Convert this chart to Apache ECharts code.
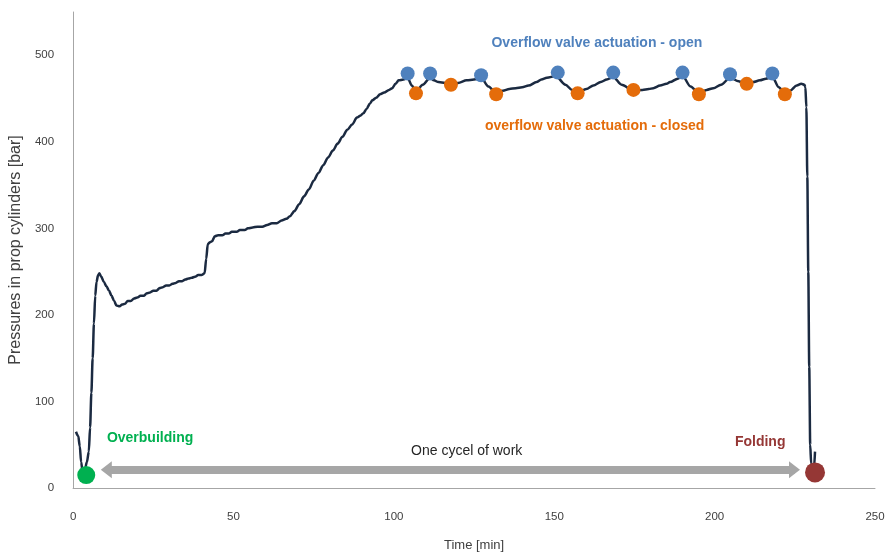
<!DOCTYPE html>
<html>
<head>
<meta charset="utf-8">
<script src="https://cdn.jsdelivr.net/npm/echarts@6.0.0/dist/echarts.min.js"></script>
<style>
html,body{margin:0;padding:0;background:#ffffff;}
#chart{width:888px;height:557px;}
</style>
</head>
<body>
<div id="chart"></div>
<script>
// ---- data ----
const pressureCurve = [
  [0.9,65],[1.6,60],[2.1,48],[2.5,30],[3.0,18],[3.6,20],[4.3,30],[4.9,42],[5.3,70],[5.7,110],[6.1,150],[6.5,190],[6.9,222],[7.3,238],[7.8,246],[8.2,248],
  [8.8,244],[9.6,238],[10.4,233],[11.2,228],[12.0,222],[12.8,216],[13.5,211],[14.5,210],[15.3,212],[16.2,213],[17.0,216],[18.0,216],[19.0,219],[20.0,220],
  [21.0,222],[22.0,222],[23.0,225],[24.0,226],[25.0,228],[26.0,228],[27.0,231],[28.0,232],[29.0,234],[30.0,234],[31.0,236],[32.0,237],[33.0,239],[34.0,239],
  [35.0,241],[36.0,242],[37.0,243],[38.0,244],[39.0,246],[40.0,246],[41.0,248],[41.5,265],[42.0,282],[42.7,284],[43.3,285],[44.2,291],[45.2,292],[46.5,292],
  [47.5,294],[48.5,294],[49.5,296],[51.0,296],[52.0,298],[53.5,298],[54.5,300],[56.0,301],[57.5,302],[59.0,302],[60.5,304],[62.0,306],[63.5,306],[65.0,309],
  [66.5,311],[67.6,314],[69.0,320],[70.5,328],[72.0,337],[73.5,345],[75.0,355],[76.5,364],[78.0,373],[79.5,382],[81.0,390],[82.5,398],[84.0,406],[85.5,414],
  [87.0,420],[88.5,428],[89.5,430],[90.5,433],[91.5,438],[92.5,444],[93.3,448],[94.5,451],[95.7,455],[97.0,457],[98.5,460],[99.5,462],[100.5,467],[101.5,471],
  [103.0,472],[104.3,474],[105.6,465],[106.9,458],[109.0,466],[111.3,474],[112.5,471],[113.9,469],[116.0,468],[117.8,466],[120.0,468],[122.7,471],[125.0,472],
  [127.2,474],[129.5,464],[131.9,456],[134.0,459],[136.0,461],[138.0,462],[140.0,463],[142.0,465],[144.5,469],[146.0,472],[147.7,474],[150.5,476],[153.5,466],
  [155.5,460],[157.3,457],[160.0,461],[162.2,465],[164.5,469],[166.4,472],[168.4,475],[171.0,466],[174.7,459],[177.5,460],[179.5,461],[180.9,462],[183.0,465],
  [185.0,467],[186.1,469],[188.5,473],[190.0,476],[192.5,464],[195.1,456],[197.5,460],[199.6,462],[202.0,466],[204.8,474],[207.5,470],[210.0,466],[212.0,469],
  [214.1,471],[216.0,473],[218.0,475],[220.0,463],[221.9,456],[223.5,459],[225.6,465],[227.0,467],[228.0,466],[228.3,463],[228.6,440],[228.9,360],[229.2,250],
  [229.5,140],[229.8,50],[230.1,28],[230.6,20],[231.0,24],[231.3,42]
];
const valveOpenPoints   = [[104.3,479],[111.3,479],[127.2,477],[151.1,480],[168.4,480],[190.0,480],[204.8,478],[218.0,479]];
const valveClosedPoints = [[106.9,456],[117.8,466],[131.9,455],[157.3,456],[174.7,460],[195.1,455],[210.0,467],[221.9,455]];
const overbuildingPoint = [[4.1,15]];
const foldingPoint      = [[231.3,18]];
const cycleArrowTime    = [10.35, 224.9];
const cycleArrowLevel   = 21;
const annotationText     = ['Overflow valve actuation - open','overflow valve actuation - closed','Overbuilding','Folding','One cycel of work'];
const annotationTime     = [163.3, 162.6, 24.0, 214.2, 122.7];
const annotationPressure = [514, 418, 58, 53, 43];
const xTicks = [0, 50, 100, 150, 200, 250];
const yTicks = [0, 100, 200, 300, 400, 500];

// ---- styling ----
const FONT = 'Liberation Sans';
const annotationStyles = [
  {color:'#4F81BD', fontWeight:'bold', fontSize:14},
  {color:'#E46C0A', fontWeight:'bold', fontSize:14},
  {color:'#00B050', fontWeight:'bold', fontSize:14},
  {color:'#953735', fontWeight:'bold', fontSize:14},
  {color:'#262626', fontWeight:'normal', fontSize:14}
];
const annotations = annotationText.map((t, i) => ({
  value: [annotationTime[i], annotationPressure[i]],
  label: Object.assign({show:true, position:'inside', formatter:t, fontFamily:FONT, opacity:1}, annotationStyles[i])
}));

const chart = echarts.init(document.getElementById('chart'), null, {renderer:'canvas'});
chart.setOption({
  animation: false,
  backgroundColor: '#ffffff',
  grid: {left:73, right:13, top:12, bottom:67, containLabel:false},
  xAxis: {
    type:'value', min:xTicks[0], max:xTicks[xTicks.length-1], interval:xTicks[1]-xTicks[0],
    name:'Time [min]', nameLocation:'middle', nameGap:51,
    nameTextStyle:{fontFamily:FONT, fontSize:13, color:'#404040'},
    axisLine:{show:true, lineStyle:{color:'#A6A6A6', width:1}},
    axisTick:{show:false},
    axisLabel:{fontFamily:FONT, fontSize:11.5, color:'#404040', margin:23},
    splitLine:{show:false}
  },
  yAxis: {
    type:'value', min:yTicks[0], max:550, interval:yTicks[1]-yTicks[0],
    name:'Pressures in prop cylinders [bar]', nameLocation:'middle', nameGap:46, nameRotate:90,
    nameTextStyle:{fontFamily:FONT, fontSize:16, color:'#404040'},
    axisLine:{show:true, lineStyle:{color:'#A6A6A6', width:1}},
    axisTick:{show:false},
    axisLabel:{fontFamily:FONT, fontSize:11.5, color:'#404040', margin:19, showMaxLabel:false},
    splitLine:{show:false}
  },
  series: [
    {
      type:'line', data:pressureCurve, showSymbol:false, symbol:'none',
      smooth:0.3, smoothMonotone:'x',
      lineStyle:{color:'#1B2A41', width:2.5}, z:2
    },
    {
      type:'scatter', data:annotations, symbolSize:0, z:1, silent:true,
      itemStyle:{opacity:1},
      markLine:{
        silent:true, symbol:['triangle','triangle'], symbolSize:[17,11],
        lineStyle:{color:'#A6A6A6', width:8, type:'solid', opacity:1},
        itemStyle:{opacity:1},
        label:{show:false}, emphasis:{disabled:true},
        data:[[{coord:[cycleArrowTime[0], cycleArrowLevel]},{coord:[cycleArrowTime[1], cycleArrowLevel]}]]
      }
    },
    {type:'scatter', data:valveOpenPoints, symbolSize:14, itemStyle:{color:'#4F81BD', opacity:1}, z:3},
    {type:'scatter', data:valveClosedPoints, symbolSize:14, itemStyle:{color:'#E46C0A', opacity:1}, z:3},
    {type:'scatter', data:overbuildingPoint, symbolSize:18, itemStyle:{color:'#00B050', opacity:1}, z:3},
    {type:'scatter', data:foldingPoint, symbolSize:20, itemStyle:{color:'#953735', opacity:1}, z:3}
  ]
});
</script>
</body>
</html>
